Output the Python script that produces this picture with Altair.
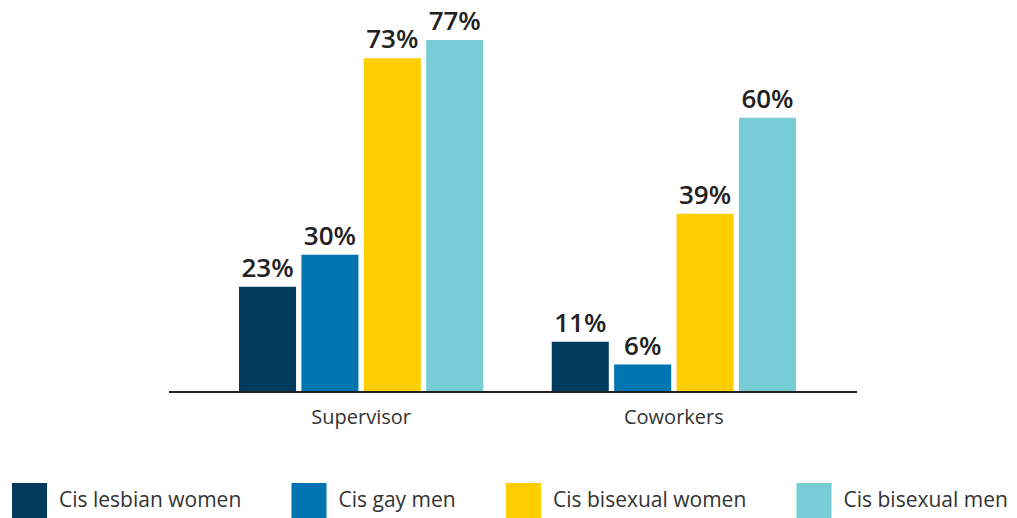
import altair as alt
import pandas as pd

groups = ["Supervisor", "Coworkers"]
series = ["Cis lesbian women", "Cis gay men", "Cis bisexual women", "Cis bisexual men"]
supervisor = [23, 30, 73, 77]
coworkers = [11, 6, 39, 60]
colors = ["#013C5E", "#0075B1", "#FFCE00", "#76CDD5"]

rows = []
for g, vals in zip(groups, [supervisor, coworkers]):
    for s, v in zip(series, vals):
        rows.append({"group": g, "series": s, "value": v, "label": f"{v}%"})
df = pd.DataFrame(rows)

W, H = 688, 384

x = alt.X("group:N", sort=groups, title=None,
          scale=alt.Scale(range=[70, 627], paddingInner=0.219, paddingOuter=0),
          axis=alt.Axis(labelAngle=0, ticks=False, domain=False,
                        labelFont="Open Sans", labelFontSize=20, labelColor="#333333",
                        labelPadding=15))
xo = alt.XOffset("series:N", sort=series, scale=alt.Scale(paddingInner=0.0856, paddingOuter=0))
y = alt.Y("value:Q", scale=alt.Scale(domain=[0, 84], nice=False), axis=None)

bars = alt.Chart(df).mark_bar().encode(
    x=x, xOffset=xo, y=y,
    color=alt.Color("series:N", sort=series,
                    scale=alt.Scale(domain=series, range=colors),
                    legend=alt.Legend(title=None, orient="none", legendX=-157, legendY=475,
                                      direction="horizontal", columns=4, columnPadding=49.5,
                                      symbolType="square", symbolSize=1225, symbolStrokeWidth=0,
                                      symbolOpacity=1,
                                      labelFont="Open Sans", labelFontSize=21, labelColor="#333333",
                                      labelOffset=12, labelLimit=400))
)

labels = alt.Chart(df).mark_text(font="Open Sans", fontSize=26, fontWeight=600,
                                 color="#222222", baseline="alphabetic", dy=-10).encode(
    x=x, xOffset=xo, y=y, text="label:N"
)

axis_line = alt.Chart(df).mark_rule(color="#222222", strokeWidth=1.3).encode(
    x=alt.value(0), x2=alt.value(W), y=alt.value(H)
)

chart = alt.layer(bars, labels, axis_line).properties(
    width=W, height=H,
    autosize=alt.AutoSizeParams(type="none"),
    padding={"left": 161, "top": 0, "right": 152, "bottom": 126},
).configure_view(stroke=None)

chart.save("out.html", embed_options={"renderer": "svg", "actions": False})
